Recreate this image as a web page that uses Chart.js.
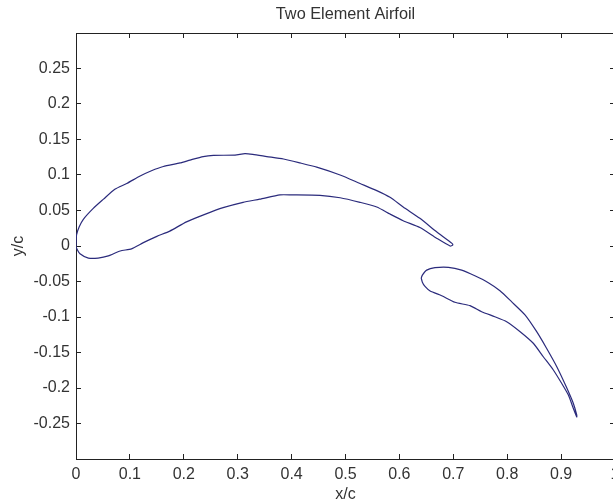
<!DOCTYPE html>
<html>
<head>
<meta charset="utf-8">
<title>Two Element Airfoil</title>
<script src="https://cdn.jsdelivr.net/npm/chart.js@4"></script>
<style>
  html, body { margin: 0; padding: 0; background: #fff; overflow: hidden; }
  #wrap { width: 613px; height: 500px; overflow: hidden; }
  canvas { display: block; }
</style>
</head>
<body>
<div id="wrap"><canvas id="chart" width="691" height="500"></canvas></div>
<script>
// main element: leading edge -> upper surface -> trailing edge -> lower surface -> leading edge
const mainX = [0.000, 0.001, 0.006, 0.0136, 0.032, 0.051, 0.072, 0.094, 0.119, 0.140, 0.162, 0.193, 0.2115, 0.236, 0.255, 0.295, 0.3135, 0.328, 0.354, 0.385, 0.4156, 0.4466, 0.490, 0.527, 0.558, 0.5826, 0.607, 0.638, 0.669, 0.697, 0.699, 0.694, 0.669, 0.638, 0.607, 0.5826, 0.558, 0.527, 0.490, 0.4527, 0.4000, 0.3785, 0.341, 0.310, 0.273, 0.239, 0.205, 0.174, 0.150, 0.125, 0.103, 0.082, 0.060, 0.041, 0.023, 0.0074, 0.001, 0.000];
const mainY = [0.000, 0.0155, 0.027, 0.0376, 0.053, 0.066, 0.080, 0.088, 0.0986, 0.106, 0.112, 0.117, 0.121, 0.126, 0.1277, 0.128, 0.130, 0.129, 0.126, 0.1225, 0.117, 0.111, 0.100, 0.088, 0.078, 0.0686, 0.055, 0.039, 0.020, 0.004, 0.0014, 0.000, 0.011, 0.026, 0.0356, 0.045, 0.055, 0.0615, 0.068, 0.0714, 0.072, 0.072, 0.066, 0.0615, 0.054, 0.0446, 0.034, 0.021, 0.0136, 0.0047, -0.004, -0.007, -0.014, -0.017, -0.017, -0.011, -0.003, 0.000];
// flap: nose -> upper surface -> trailing edge -> lower surface -> nose
const flapX = [0.6405, 0.6426, 0.6506, 0.666, 0.691, 0.7155, 0.740, 0.765, 0.7866, 0.808, 0.833, 0.8547, 0.873, 0.892, 0.910, 0.9226, 0.929, 0.929, 0.9226, 0.9135, 0.901, 0.8856, 0.867, 0.8484, 0.824, 0.799, 0.777, 0.7526, 0.731, 0.703, 0.6785, 0.657, 0.6475, 0.6426, 0.6405];
const flapY = [-0.045, -0.041, -0.034, -0.0305, -0.030, -0.034, -0.042, -0.0517, -0.063, -0.0784, -0.097, -0.1207, -0.144, -0.170, -0.199, -0.2215, -0.238, -0.2408, -0.2286, -0.21, -0.1934, -0.1746, -0.156, -0.137, -0.1207, -0.1066, -0.0996, -0.0925, -0.084, -0.0793, -0.070, -0.0634, -0.057, -0.051, -0.045];
const xTicks = [0, 0.1, 0.2, 0.3, 0.4, 0.5, 0.6, 0.7, 0.8, 0.9, 1];
const yTicks = [-0.25, -0.2, -0.15, -0.1, -0.05, 0, 0.05, 0.1, 0.15, 0.2, 0.25];

const lineColor = "#2b2b7c";
const axisColor = "#222";
const textColor = "#333";
const fontFamily = "'Liberation Sans', Arial, sans-serif";

function toPoints(xs, ys) {
  return xs.map((x, i) => ({ x: x, y: ys[i] }));
}

function axis(position, min, max, ticks, size, showLabels) {
  const horizontal = position === "top" || position === "bottom";
  return {
    type: "linear",
    position: position,
    min: min,
    max: max,
    afterBuildTicks: (scale) => {
      scale.ticks = ticks.map((value) => ({ value: value }));
    },
    afterFit: (scale) => {
      if (horizontal) scale.height = size;
      else scale.width = size;
    },
    border: { display: true, color: axisColor, width: 1 },
    grid: {
      display: true,
      drawOnChartArea: false,
      drawTicks: true,
      tickLength: -5, // negative so the ticks point into the plot
      tickColor: axisColor,
      tickWidth: 1,
    },
    ticks: {
      display: showLabels,
      autoSkip: false,
      maxRotation: 0,
      padding: 11,
      color: textColor,
      font: { family: fontFamily, size: 16 },
      callback: (value) => String(Number(value.toFixed(2))),
    },
  };
}

const xAxis = axis("bottom", 0, 1, xTicks, 41, true);
xAxis.title = { display: true, text: "x/c", color: textColor, font: { family: fontFamily, size: 16 }, padding: { top: 0, bottom: -4 } };
const yAxis = axis("left", -0.3, 0.3, yTicks, 76, true);
yAxis.title = { display: true, text: "y/c", color: textColor, font: { family: fontFamily, size: 16 }, padding: { top: 9, bottom: 0 } };

new Chart(document.getElementById("chart"), {
  type: "scatter",
  data: {
    datasets: [
      { label: "Main element", data: toPoints(mainX, mainY), showLine: true, borderColor: lineColor, borderWidth: 1.2, pointRadius: 0, tension: 0.2 },
      { label: "Flap", data: toPoints(flapX, flapY), showLine: true, borderColor: lineColor, borderWidth: 1.2, pointRadius: 0, tension: 0.2 },
    ],
  },
  options: {
    responsive: false,
    animation: false,
    layout: { padding: 0 },
    plugins: {
      legend: { display: false },
      tooltip: { enabled: false },
      title: {
        display: true,
        text: "Two Element Airfoil",
        color: textColor,
        font: { family: fontFamily, size: 16.3, weight: "normal", lineHeight: "20px" },
        padding: { top: 5, bottom: 0 },
      },
    },
    scales: {
      x: xAxis,
      y: yAxis,
      xTop: axis("top", 0, 1, xTicks, 8, false),
      yRight: axis("right", -0.3, 0.3, yTicks, 76, false),
    },
  },
});
</script>
</body>
</html>
